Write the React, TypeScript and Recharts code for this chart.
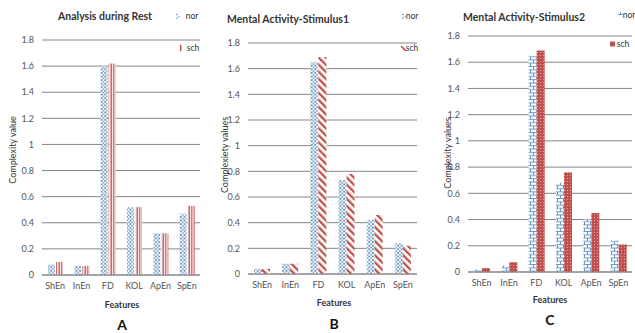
import React from 'react';
import { BarChart, Bar, XAxis, YAxis, CartesianGrid } from 'recharts';

const categories = ['ShEn', 'InEn', 'FD', 'KOL', 'ApEn', 'SpEn'];
const restNor = [0.08, 0.07, 1.6, 0.52, 0.32, 0.47];
const restSch = [0.1, 0.07, 1.62, 0.52, 0.32, 0.53];
const stim1Nor = [0.04, 0.08, 1.65, 0.73, 0.42, 0.24];
const stim1Sch = [0.04, 0.08, 1.69, 0.78, 0.46, 0.22];
const stim2Nor = [0.02, 0.05, 1.65, 0.68, 0.4, 0.24];
const stim2Sch = [0.03, 0.075, 1.69, 0.76, 0.45, 0.21];
const yTicks = [0, 0.2, 0.4, 0.6, 0.8, 1, 1.2, 1.4, 1.6, 1.8];
const seriesNames = ['nor', 'sch'];
const titles = ['Analysis during Rest', 'Mental Activity-Stimulus1', 'Mental Activity-Stimulus2'];
const yLabels = ['Complexity value', 'Complexiety values', 'Complexity values'];
const panelLetters = ['A', 'B', 'C'];

const FONT = 'Lato, "Open Sans", sans-serif';
const GRID = '#858585';
const RED = '#c0504d';

const build = (nor: number[], sch: number[]) =>
  categories.map((c, i) => ({ name: c, nor: nor[i], sch: sch[i] }));

const PatternDefs = ({ p }: { p: string }) => (
  <defs>
    <pattern id={`${p}-dots`} width="3.6" height="3.6" patternUnits="userSpaceOnUse">
      <rect width="3.6" height="3.6" fill="#ffffff" />
      <circle cx="0.9" cy="0.9" r="0.95" fill="#4f84b8" />
      <circle cx="2.7" cy="2.7" r="0.95" fill="#79a3ca" />
    </pattern>
    <pattern id={`${p}-vstripe`} width="2.6" height="4" patternUnits="userSpaceOnUse">
      <rect width="2.6" height="4" fill="#ffffff" />
      <rect x="1.3" width="1.3" height="4" fill={RED} />
    </pattern>
    <pattern id={`${p}-diag`} width="5" height="5" patternUnits="userSpaceOnUse" patternTransform="rotate(-45)">
      <rect width="5" height="5" fill="#ffffff" />
      <rect width="2.3" height="5" fill={RED} />
    </pattern>
    <pattern id={`${p}-brick`} width="6" height="6.6" patternUnits="userSpaceOnUse">
      <rect width="6" height="6.6" fill="#ffffff" />
      <line x1="0" y1="0.5" x2="6" y2="0.5" stroke="#6a97c4" strokeWidth="1" />
      <line x1="0" y1="3.8" x2="6" y2="3.8" stroke="#6a97c4" strokeWidth="1" />
      <line x1="0.5" y1="0" x2="0.5" y2="3.8" stroke="#6a97c4" strokeWidth="1" />
      <line x1="3.5" y1="3.8" x2="3.5" y2="6.6" stroke="#6a97c4" strokeWidth="1" />
    </pattern>
    <pattern id={`${p}-reddot`} width="3" height="3" patternUnits="userSpaceOnUse">
      <rect width="3" height="3" fill={RED} />
      <circle cx="1.5" cy="1.5" r="0.55" fill="#eab5b3" />
    </pattern>
  </defs>
);

type PanelProps = {
  idx: number;
  left: number;
  width: number;
  top: number;
  bottom: number;
  right: number;
  yWidth: number;
  nor: number[];
  sch: number[];
  norPat: string;
  schPat: string;
  barSize: number;
  barGap: number;
};

const Panel = (props: PanelProps) => {
  const p = `p${props.idx}`;
  const data = build(props.nor, props.sch);
  return (
    <div style={{ position: 'absolute', left: props.left, top: 0, width: props.width, height: 333 }}>
      <BarChart
        width={props.width}
        height={333}
        data={data}
        margin={{ top: props.top, right: props.right, bottom: 0, left: 0 }}
        barSize={props.barSize}
        barGap={props.barGap}
      >
        <PatternDefs p={p} />
        <CartesianGrid vertical={false} stroke={GRID} strokeWidth={1} />
        <XAxis
          dataKey="name"
          height={props.bottom}
          axisLine={{ stroke: GRID }}
          tickLine={false}
          interval={0}
          tick={{ fill: '#555555', fontSize: 9, fontFamily: FONT }}
        />
        <YAxis
          width={props.yWidth}
          domain={[0, 1.8]}
          ticks={yTicks}
          interval={0}
          axisLine={false}
          tickLine={false}
          tickFormatter={(v: number) => String(Number(v.toFixed(1)))}
          tick={{ fill: '#555555', fontSize: 9, fontFamily: FONT }}
        />
        <Bar dataKey="nor" fill={`url(#${p}-${props.norPat})`} isAnimationActive={false} />
        <Bar dataKey="sch" fill={`url(#${p}-${props.schPat})`} isAnimationActive={false} />
      </BarChart>
    </div>
  );
};

const Text = ({ x, y, children, size, weight, color, rotate }: any) => (
  <div
    style={{
      position: 'absolute',
      left: x,
      top: y,
      transform: `translate(-50%, -50%)${rotate ? ' rotate(-90deg)' : ''}`,
      fontFamily: FONT,
      fontSize: size,
      fontWeight: weight || 'normal',
      color: color || '#333333',
      whiteSpace: 'nowrap',
      lineHeight: 1,
    }}
  >
    {children}
  </div>
);

const Swatch = ({ x, y, fill }: { x: number; y: number; fill: React.ReactNode }) => (
  <svg style={{ position: 'absolute', left: x, top: y - 3 }} width={5} height={6}>
    {fill}
  </svg>
);

export default function App() {
  return (
    <div style={{ position: 'fixed', left: 0, top: 0, width: 635, height: 333, background: '#ffffff', overflow: 'hidden' }}>
      <Panel idx={0} left={0} width={215} top={40} bottom={58} right={15} yWidth={42}
        nor={restNor} sch={restSch} norPat="dots" schPat="vstripe" barSize={7} barGap={1} />
      <Panel idx={1} left={210} width={215} top={43} bottom={59} right={8} yWidth={38}
        nor={stim1Nor} sch={stim1Sch} norPat="dots" schPat="diag" barSize={8} barGap={0} />
      <Panel idx={2} left={425} width={210} top={36} bottom={61} right={3} yWidth={43}
        nor={stim2Nor} sch={stim2Sch} norPat="brick" schPat="reddot" barSize={8} barGap={0} />

      <Text x={105} y={16} size={10.5} weight="bold">{titles[0]}</Text>
      <Text x={288} y={19} size={10.5} weight="bold">{titles[1]}</Text>
      <Text x={524} y={17} size={10.5} weight="bold">{titles[2]}</Text>

      <Text x={12} y={150} size={9} rotate>{yLabels[0]}</Text>
      <Text x={224} y={155} size={9} rotate>{yLabels[1]}</Text>
      <Text x={447} y={153} size={9} rotate>{yLabels[2]}</Text>

      <Text x={122} y={304} size={9} weight="bold">Features</Text>
      <Text x={334} y={302} size={9} weight="bold">Features</Text>
      <Text x={550} y={299} size={9} weight="bold">Features</Text>

      <Text x={122} y={325} size={14} weight="bold" color="#111111">{panelLetters[0]}</Text>
      <Text x={334} y={324} size={14} weight="bold" color="#111111">{panelLetters[1]}</Text>
      <Text x={550} y={320} size={14} weight="bold" color="#111111">{panelLetters[2]}</Text>

      {/* legends */}
      <Swatch x={176} y={16} fill={<g><circle cx="1" cy="1.5" r="0.8" fill="#5a8bbd" /><circle cx="3" cy="3.5" r="0.8" fill="#7fa6cc" /><circle cx="1" cy="5" r="0.8" fill="#5a8bbd" /></g>} />
      <Text x={192} y={16} size={8.5}>{seriesNames[0]}</Text>
      <Swatch x={179} y={48} fill={<rect x="1" y="0" width="1.5" height="6" fill={RED} />} />
      <Text x={193} y={48} size={8.5}>{seriesNames[1]}</Text>

      <Swatch x={402} y={16} fill={<g><circle cx="1" cy="1.5" r="0.8" fill="#5a8bbd" /><circle cx="3" cy="3.5" r="0.8" fill="#7fa6cc" /><circle cx="1" cy="5" r="0.8" fill="#5a8bbd" /></g>} />
      <Text x={412} y={16} size={8.5}>{seriesNames[0]}</Text>
      <Swatch x={401} y={48} fill={<line x1="0" y1="1" x2="5" y2="6" stroke={RED} strokeWidth="1.6" />} />
      <Text x={412} y={48} size={8.5}>{seriesNames[1]}</Text>

      <Swatch x={618} y={15} fill={<g><line x1="0" y1="2.5" x2="5" y2="2.5" stroke="#6a97c4" /><line x1="2.5" y1="0" x2="2.5" y2="2.5" stroke="#6a97c4" /></g>} />
      <Text x={629} y={15} size={8.5}>{seriesNames[0]}</Text>
      <Swatch x={610} y={44} fill={<rect x="0" y="0.5" width="5" height="5" fill={RED} />} />
      <Text x={623} y={44} size={8.5}>{seriesNames[1]}</Text>
    </div>
  );
}
